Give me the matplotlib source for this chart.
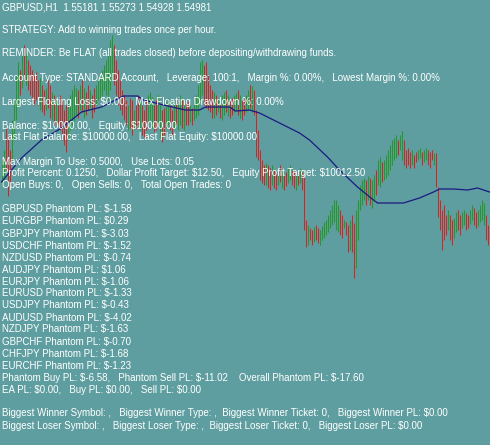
import matplotlib
matplotlib.use("Agg")
import matplotlib.pyplot as plt

# ---- data (price = 1.5000 + value/10000) ----
highs = [580,590,612,605,590,620,640,
         665,678,670,685,695,687,680,675,670,665,
         668,660,662,655,650,652,660,655,648,645,640,635,
         645,640,630,635,640,645,650,655,
         652,650,655,660,652,648,655,650,645,652,655,660,665,670,675,
         680,688,700,705,695,680,670,660,650,
         645,640,635,642,640,630,635,645,640,635,630,640,645,648,643,635,
         640,645,635,630,632,638,642,635,630,640,642,637,645,640,635,640,
         638,635,632,640,645,655,
         678,680,675,678,665,655,650,
         648,645,642,640,645,648,650,645,640,642,645,647,650,645,640,642,645,650,655,
         654,650,630,610,590,580,575,
         577,575,572,575,570,568,572,575,570,565,568,572,575,570,568,565,570,572,568,
         563,520,515,512,510,513,515,512,510,514,518,520,525,530,535,540,
         540,535,530,525,520,518,515,520,525,517,530,540,
         555,560,562,560,564,562,560,565,570,
         580,583,578,580,585,590,595,600,602,605,600,605,609,600,590,592,
         588,590,585,588,590,592,588,590,592,590,588,590,587,
         587,553,540,530,535,525,530,525,520,522,
         528,530,525,528,530,527,525,530,535,532,528,530,535,540,537,525,515,512]
lows = [555,560,570,544,555,580,600,
        620,635,645,652,660,655,650,645,640,635,
        640,635,630,628,625,630,632,622,620,615,618,615,
        610,600,595,588,600,610,615,620,
        625,622,630,628,622,625,630,632,622,628,635,640,642,645,650,
        645,640,650,660,655,645,635,630,625,
        620,615,610,612,605,610,612,615,610,605,602,610,615,620,612,608,
        610,615,602,598,605,612,615,610,605,612,615,610,615,612,610,615,
        615,618,615,620,622,625,
        640,645,635,632,630,628,622,
        622,625,628,622,620,625,628,624,622,625,628,630,625,622,620,625,628,630,632,
        628,625,583,580,560,557,555,
        555,552,550,555,552,550,555,558,552,550,554,557,560,555,552,550,555,557,550,
        510,493,495,500,495,498,500,497,495,500,502,505,508,512,515,518,
        510,508,505,502,512,505,488,490,488,462,472,500,
        530,535,540,535,540,535,532,540,545,
        555,553,558,560,562,565,570,575,580,582,585,590,580,575,572,575,
        572,575,572,578,580,582,575,578,580,575,572,580,575,
        553,523,510,490,500,505,510,500,495,502,
        508,510,505,512,515,510,512,516,520,515,512,514,518,520,515,500,495,492]
# u = bullish (close above open), d = bearish
direction = ("uuddduu" "uudududddd" "ddudduddudud" "dddduuuu" "udududdudduuuuu"
             "uuuuddddd" "dduddudduddduuudduudduudduduudud" "duduuu" "uuddddd"
             "ududuududduududduud" "udddddd" "udduddududduuddudud" "dduddudduuuuuuuu"
             "uudduddudduu" "uuududuud" "uuduuuuuuuduuddd" "dudduuduudddu"
             "dddddduddu" "udduudduudduuuuddd")
ma_bar = [0,10,20,30,40,50,61,68,71,81,92,99,102,114,117,124,129,139,149,154,163,169,
          178,186,188,201,209,216,219,226,233,238,244]
ma_val = [558,582,600,612,628,633,644,644,640,635,630,630,633,633,629,630,627,617,607,
          600,583,570,553,540,537,537,542,548,551,551,550,552,548]

info_lines = [
    "GBPUSD,H1  1.55181 1.55273 1.54928 1.54981",
    "STRATEGY: Add to winning trades once per hour.",
    "REMINDER: Be FLAT (all trades closed) before depositing/withdrawing funds.",
    "Account Type: STANDARD Account,   Leverage: 100:1,   Margin %: 0.00%,   Lowest Margin %: 0.00%",
    "Largest Floating Loss: $0.00,   Max Floating Drawdown %: 0.00%",
    "Balance: $10000.00,   Equity: $10000.00",
    "Last Flat Balance: $10000.00,   Last Flat Equity: $10000.00",
    "Max Margin To Use: 0.5000,   Use Lots: 0.05",
    "Profit Percent: 0.1250,   Dollar Profit Target: $12.50,   Equity Profit Target: $10012.50",
    "Open Buys: 0,   Open Sells: 0,   Total Open Trades: 0",
    "GBPUSD Phantom PL: $-1.58",
    "EURGBP Phantom PL: $0.29",
    "GBPJPY Phantom PL: $-3.03",
    "USDCHF Phantom PL: $-1.52",
    "NZDUSD Phantom PL: $-0.74",
    "AUDJPY Phantom PL: $1.06",
    "EURJPY Phantom PL: $-1.06",
    "EURUSD Phantom PL: $-1.33",
    "USDJPY Phantom PL: $-0.43",
    "AUDUSD Phantom PL: $-4.02",
    "NZDJPY Phantom PL: $-1.63",
    "GBPCHF Phantom PL: $-0.70",
    "CHFJPY Phantom PL: $-1.68",
    "EURCHF Phantom PL: $-1.23",
    "Phantom Buy PL: $-6.58,   Phantom Sell PL: $-11.02    Overall Phantom PL: $-17.60",
    "EA PL: $0.00,   Buy PL: $0.00,   Sell PL: $0.00",
    "Biggest Winner Symbol: ,   Biggest Winner Type: ,  Biggest Winner Ticket: 0,   Biggest Winner PL: $0.00",
    "Biggest Loser Symbol: ,   Biggest Loser Type: ,  Biggest Loser Ticket: 0,   Biggest Loser PL: $0.00",
]
line_y = [7, 30, 53, 78, 102, 126, 137, 162, 173, 185,
          209, 221, 234, 246, 258, 270, 282, 293, 305, 318, 329, 342, 354, 366, 378, 390,
          413, 426]

# ---- drawing ----
W, H = 490, 445
BG = "#5f9ea0"
UP = "#249a24"
DN = "#dc2020"
MA = "#1a1a80"

fig = plt.figure(figsize=(W / 100, H / 100), dpi=100, facecolor=BG)
ax = fig.add_axes([0, 0, 1, 1], facecolor=BG)
ax.set_xlim(-0.75, len(highs) - 0.75)
ax.set_ylim(1.5 + 295 / 10000, 1.5 + 740 / 10000)
ax.axis("off")

for i, (h, l, d) in enumerate(zip(highs, lows, direction)):
    ax.vlines(i, 1.5 + l / 10000, 1.5 + h / 10000, colors=UP if d == "u" else DN,
              linewidth=0.75, zorder=2)

ax.plot(ma_bar, [1.5 + v / 10000 for v in ma_val], color=MA, linewidth=0.9, zorder=3)

for txt, y in zip(info_lines, line_y):
    fig.text(2 / W, 1 - y / H, txt, color="white", fontsize=7.0,
             family="Liberation Sans", va="center", ha="left", zorder=5,
             parse_math=False)

fig.savefig("out.png", dpi=100, facecolor=BG)
